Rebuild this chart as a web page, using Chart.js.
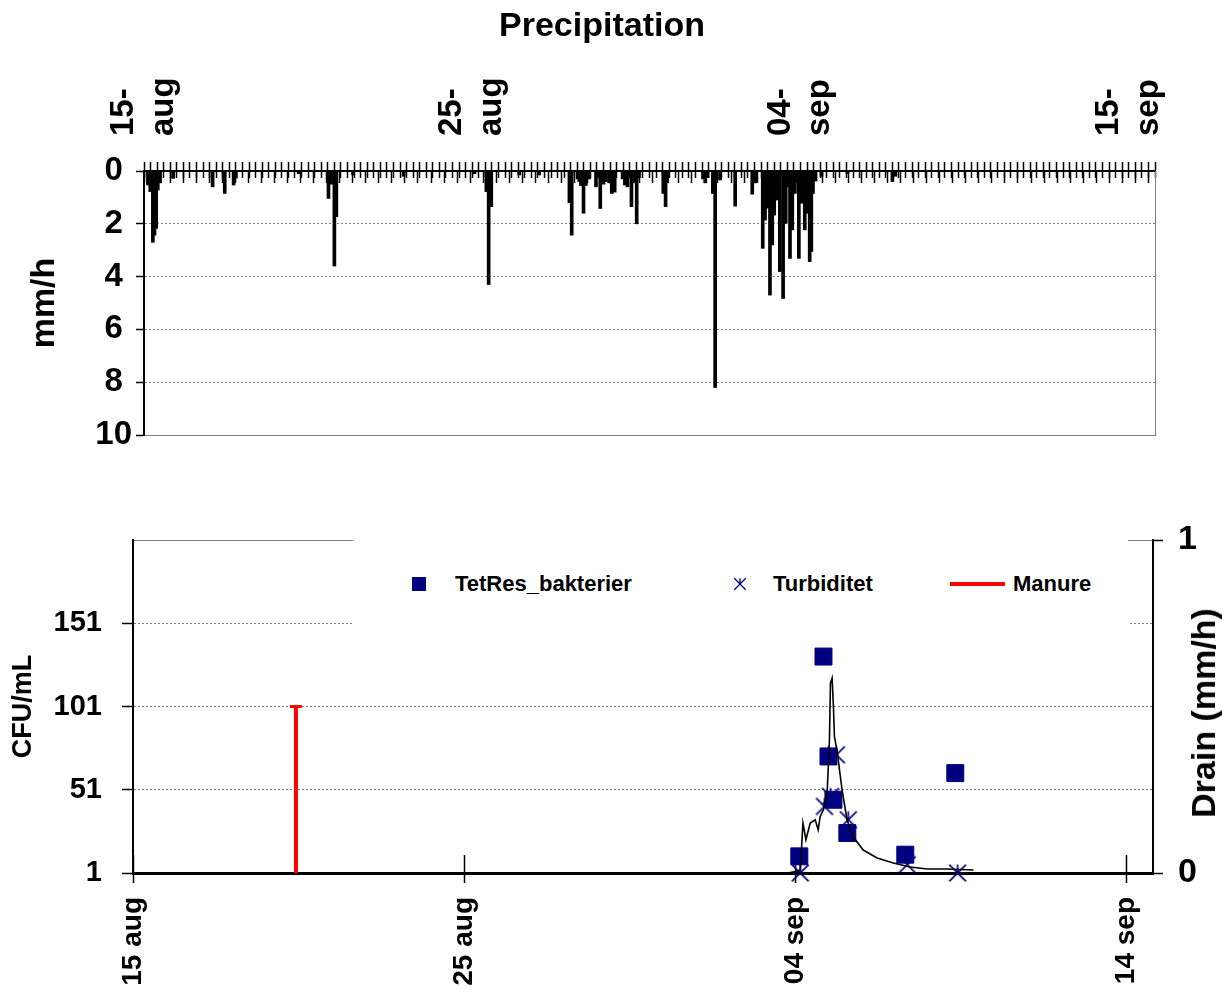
<!DOCTYPE html>
<html lang="sv">
<head>
<meta charset="UTF-8">
<title>Precipitation</title>
<script src="https://cdn.jsdelivr.net/npm/chart.js"></script>
<style>
  body { margin: 0; background: #fff; font-family: 'Liberation Sans', Arial, sans-serif; }
  #wrap { position: relative; width: 1222px; height: 997px; }
  #precipChart { position: absolute; left: 0; top: 0; }
  #bactChart { position: absolute; left: 0; top: 460px; }
  #legendBox { position: absolute; left: 353px; top: 528px; width: 775px; height: 100px; background: #fff; }
  .lg-item { position: absolute; top: 0; height: 100px; }
  .lg-text { position: absolute; top: 44px; font: bold 22px 'Liberation Sans', Arial, sans-serif; line-height: 24px; white-space: nowrap; color: #000; }
  #drainTitle { position: absolute; left: 1203px; top: 713px; transform: translate(-50%, -50%) rotate(-90deg);
                font: bold 34px 'Liberation Sans', Arial, sans-serif; white-space: nowrap; line-height: 1; }
</style>
</head>
<body>
<div id="wrap">
  <canvas id="precipChart" width="1222" height="460"></canvas>
  <canvas id="bactChart" width="1222" height="537"></canvas>
  <div id="legendBox"></div>
  <div id="drainTitle">Drain (mm/h)</div>
</div>

<script>
// dag 0 = 15 aug
const precipDays = [0.02, 0.09, 0.17, 0.22, 0.27, 0.32, 0.39, 0.79, 1.99, 2.36, 2.63, 2.70, 4.61,
  5.52, 5.60, 5.70, 5.76, 6.27, 7.81, 9.97, 10.33, 10.40, 10.48, 11.33, 11.94, 12.86, 12.93,
  13.11, 13.16, 13.21, 13.29, 13.36, 13.46, 13.67, 13.74, 13.80, 13.90, 13.97, 14.07, 14.15, 14.24,
  14.48, 14.55, 14.63, 14.75, 14.81, 14.91, 14.98, 15.72, 15.79, 15.84, 16.93, 17.00, 17.07,
  17.23, 17.30, 17.45, 17.91, 18.43, 18.52, 18.75, 18.82, 18.89, 18.97, 19.04, 19.10, 19.17,
  19.27, 19.37, 19.45, 19.52, 19.58, 19.65, 19.73, 19.78, 19.85, 19.93, 20.03, 20.08, 20.18,
  20.23, 20.28, 20.36, 20.54, 21.33, 22.70, 22.79];
const precipMm = [0.53, 0.78, 2.7, 2.43, 2.17, 0.72, 0.45, 0.28, 0.6, 0.85, 0.53, 0.27, 0.1,
  1.04, 0.5, 3.6, 1.73, 0.15, 0.2, 0.1, 0.78, 4.3, 1.35, 0.15, 0.15, 1.2, 2.43,
  0.3, 0.4, 0.55, 1.6, 0.55, 0.3, 0.6, 0.25, 1.42, 0.5, 0.4, 0.45, 0.85, 0.8,
  0.3, 0.53, 0.6, 1.35, 0.45, 2.0, 0.25, 0.85, 1.35, 0.45, 0.3, 0.45, 0.25,
  0.85, 8.2, 0.34, 1.33, 0.88, 0.45, 2.93, 1.86, 1.41, 4.7, 2.8, 1.67, 1.1,
  3.81, 4.83, 1.98, 0.6, 3.31, 2.23, 0.85, 0.4, 3.31, 1.22, 2.23, 1.6, 3.43,
  3.05, 0.85, 0.38, 0.2, 0.1, 0.4, 0.2];
const topTickDays = [0, 10, 20, 30];
const topTickLabels = [['15-', 'aug'], ['25-', 'aug'], ['04-', 'sep'], ['15-', 'sep']];

const bottomTickDays = [0, 10, 20, 30];
const bottomTickLabels = ['15 aug', '25 aug', '04 sep', '14 sep'];

const tetresDays = [20.12, 20.85, 21.0, 21.15, 21.57, 23.32, 24.83];
const tetresCfu = [11, 131, 71, 45, 25, 12, 61];
const turbDays = [20.15, 20.88, 21.06, 21.24, 21.6, 23.38, 24.9];
const turbVals = [1, 41, 47, 72, 33, 6, 1];
const manureDays = [4.92, 4.92];
const manureCfu = [1, 101];
const drainDays = [19.76, 20.06, 20.15, 20.23, 20.32, 20.45, 20.60, 20.69, 20.75, 20.85, 20.96,
  21.03, 21.06, 21.11, 21.15, 21.18, 21.27, 21.41, 21.56, 21.75, 22.05, 22.47, 22.96, 23.47,
  23.98, 24.58, 25.38];
const drainMm = [0.0, 0.005, 0.01, 0.15, 0.10, 0.15, 0.16, 0.13, 0.17, 0.19, 0.24,
  0.40, 0.57, 0.585, 0.50, 0.41, 0.36, 0.25, 0.16, 0.108, 0.069, 0.045, 0.03, 0.018,
  0.012, 0.012, 0.009];

const FONT = "'Liberation Sans', Arial, sans-serif";
const NAVY = '#000080';
const GRID = '#808080';

function pts(xs, ys) { return xs.map((x, i) => ({ x: x, y: ys[i] })); }
function labelAt(days, labels, v) {
  const i = days.findIndex(d => Math.abs(d - v) < 1e-6);
  return i < 0 ? '' : labels[i];
}
// stjärnmarkör (X + lodrät linje) som i Excel
function makeStar(size, lw) {
  const c = document.createElement('canvas');
  c.width = size; c.height = size;
  const g = c.getContext('2d');
  g.strokeStyle = NAVY; g.lineWidth = lw;
  const m = lw;
  g.beginPath();
  g.moveTo(m, m); g.lineTo(size - m, size - m);
  g.moveTo(size - m, m); g.lineTo(m, size - m);
  g.moveTo(size / 2, m); g.lineTo(size / 2, size / 2);
  g.stroke();
  return c;
}
// extra axel utan text, bara tickmarkeringar som sticker in i diagrammet
function tickOnlyAxis(posValue, step, len, min, max) {
  return {
    type: 'linear', axis: 'x', position: { y: posValue }, min: min, max: max,
    ticks: { display: false, stepSize: step, autoSkip: false, includeBounds: false },
    grid: { drawOnChartArea: false, tickLength: len, tickColor: '#000', tickWidth: 1.5 },
    border: { display: false },
    afterFit: s => { s.height = 0; }
  };
}

// ---- Nederbörd ----
new Chart(document.getElementById('precipChart'), {
  type: 'bar',
  data: {
    datasets: [{
      label: 'Precipitation',
      data: pts(precipDays, precipMm),
      backgroundColor: '#000',
      borderWidth: 0,
      barThickness: 3
    }]
  },
  options: {
    responsive: false,
    animation: false,
    layout: { padding: { left: 49, right: 67, top: 0, bottom: 25 } },
    plugins: {
      legend: { display: false },
      tooltip: { enabled: false },
      title: {
        display: true, text: 'Precipitation', color: '#000',
        font: { family: FONT, size: 34, weight: 'bold' },
        padding: { top: 6, bottom: 0 }
      }
    },
    scales: {
      x: {
        type: 'linear', position: 'top', min: 0, max: 30.6,
        grid: { drawOnChartArea: false, tickLength: 9, tickColor: '#000', tickWidth: 1.5 },
        border: { color: '#000', width: 2 },
        ticks: {
          stepSize: 0.2, autoSkip: false, includeBounds: false,
          minRotation: 90, maxRotation: 90, padding: 26, labelOffset: 56, color: '#000',
          font: { family: FONT, size: 33, weight: 'bold' },
          callback: v => labelAt(topTickDays, topTickLabels, v)
        },
        afterFit: s => { s.height = 171 - 46.8; }
      },
      xt1: tickOnlyAxis(0, 0.2, 7, 0, 30.6),
      xt2: tickOnlyAxis(0, 0.4, 12, 0, 30.6),
      y: {
        position: 'left', reverse: true, min: 0, max: 10,
        ticks: {
          stepSize: 2, crossAlign: 'center', padding: 4, color: '#000',
          font: { family: FONT, size: 33, weight: 'bold' }
        },
        grid: {
          color: c => c.tick && c.tick.value === 0 ? 'rgba(0,0,0,0)' : GRID,
          lineWidth: 1, tickColor: '#000', tickLength: 8, tickWidth: 1.5
        },
        border: { color: '#000', width: 2, dash: c => (c.tick && c.tick.value === 10) ? [] : [2, 2] },
        title: {
          display: true, text: 'mm/h', color: '#000',
          font: { family: FONT, size: 34, weight: 'bold' },
          padding: { top: -25 }
        },
        afterFit: s => { s.width = 95; }
      },
      yR: {
        position: 'right', reverse: true, min: 0, max: 10,
        ticks: { display: false },
        grid: { display: false },
        border: { color: GRID, width: 1 },
        afterFit: s => { s.width = 0; }
      }
    }
  }
});

// ---- Bakterier / drän ----
const starPoint = makeStar(20, 1.6);

const bactChart = new Chart(document.getElementById('bactChart'), {
  type: 'scatter',
  data: {
    datasets: [
      {
        label: 'TetRes_bakterier', data: pts(tetresDays, tetresCfu), yAxisID: 'y',
        pointStyle: 'rect', pointRadius: 12, backgroundColor: NAVY, borderColor: NAVY,
        clip: false, order: 2
      },
      {
        label: 'Turbiditet', data: pts(turbDays, turbVals), yAxisID: 'y',
        pointStyle: starPoint, pointRadius: 10, borderColor: NAVY, backgroundColor: NAVY,
        clip: false, order: 1
      },
      {
        label: 'Manure', type: 'line', showLine: true, data: pts(manureDays, manureCfu), yAxisID: 'y',
        borderColor: '#ff0000', borderWidth: 4, pointStyle: 'line', pointRadius: [0, 6],
        pointBorderWidth: 3, pointBorderColor: '#ff0000', order: 3
      },
      {
        label: 'Drain', type: 'line', showLine: true, data: pts(drainDays, drainMm), yAxisID: 'y2',
        borderColor: '#000', borderWidth: 1.6, pointRadius: 0, tension: 0, order: 0
      }
    ]
  },
  options: {
    responsive: false,
    animation: false,
    layout: { padding: { left: 0, right: 0, top: 80, bottom: 0 } },
    plugins: { legend: { display: false }, tooltip: { enabled: false } },
    scales: {
      x: {
        type: 'linear', position: 'bottom', min: 0, max: 30.8,
        grid: { drawOnChartArea: false, tickLength: 10, tickColor: '#000', tickWidth: 1.5 },
        border: { color: '#000', width: 3 },
        ticks: {
          stepSize: 10, autoSkip: false, includeBounds: false,
          minRotation: 90, maxRotation: 90, padding: 14, color: '#000',
          font: { family: FONT, size: 28, weight: 'bold' },
          callback: v => labelAt(bottomTickDays, bottomTickLabels, v)
        },
        afterFit: s => { s.height = 124; }
      },
      xb: tickOnlyAxis(1, 10, -18, 0, 30.8),
      y: {
        position: 'left', min: 1, max: 201,
        ticks: {
          stepSize: 50, padding: 20, color: '#000',
          font: { family: FONT, size: 29, weight: 'bold' },
          callback: v => v === 201 ? '' : v
        },
        grid: {
          color: c => c.tick && c.tick.value === 1 ? 'rgba(0,0,0,0)' : GRID,
          lineWidth: 1,
          tickColor: c => c.tick && c.tick.value === 201 ? 'rgba(0,0,0,0)' : '#000',
          tickLength: 11, tickWidth: 1.5
        },
        border: { color: '#000', width: 2, dash: c => (c.tick && c.tick.value === 201) ? [] : [2, 2] },
        title: {
          display: true, text: 'CFU/mL', color: '#000',
          font: { family: FONT, size: 27, weight: 'bold' },
          padding: { top: 7 }
        },
        afterFit: s => { s.width = 133; }
      },
      y2: {
        position: 'right', min: 0, max: 1,
        ticks: {
          stepSize: 1, padding: 15, color: '#000',
          font: { family: FONT, size: 34, weight: 'bold' }
        },
        grid: { drawOnChartArea: false, tickLength: 10, tickColor: '#000', tickWidth: 1.5 },
        border: { color: '#000', width: 2 },
        afterFit: s => { s.width = 69; }
      }
    }
  }
});

// HTML-legend i diagrammets övre del (täcker stödlinjerna som i originalet)
const legendX = [59, 387, 597];
const legendBox = document.getElementById('legendBox');
bactChart.data.datasets.slice(0, 3).forEach((ds, i) => {
  const item = document.createElement('div');
  item.className = 'lg-item';
  item.style.left = legendX[i] + 'px';
  let marker, textLeft;
  if (ds.pointStyle === 'rect') {
    marker = document.createElement('div');
    marker.style.cssText = 'position:absolute;left:0;top:49px;width:14px;height:14px;background:' + NAVY;
    textLeft = 43;
  } else if (ds.pointStyle === 'line') {
    marker = document.createElement('div');
    marker.style.cssText = 'position:absolute;left:0;top:54px;width:55px;height:4px;background:' + ds.borderColor;
    textLeft = 63;
  } else {
    marker = makeStar(14, 1.3);
    marker.style.cssText = 'position:absolute;left:-7px;top:49px;';
    textLeft = 33;
  }
  const text = document.createElement('div');
  text.className = 'lg-text';
  text.style.left = textLeft + 'px';
  text.textContent = ds.label;
  item.appendChild(marker);
  item.appendChild(text);
  legendBox.appendChild(item);
});
</script>
</body>
</html>
